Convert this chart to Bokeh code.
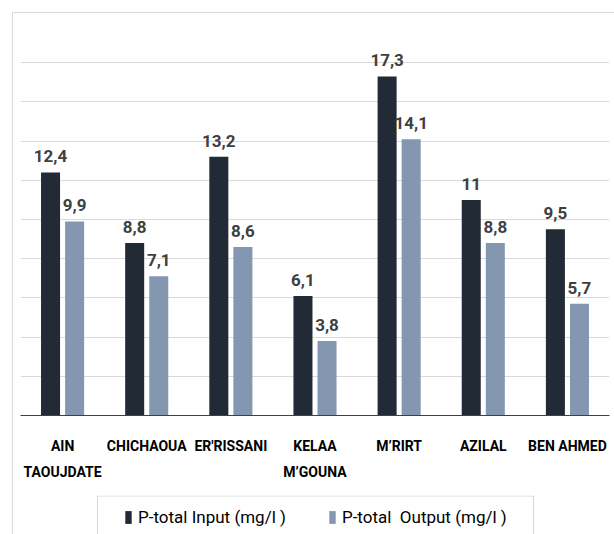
from bokeh.plotting import figure
from bokeh.layouts import column
from bokeh.models import (ColumnDataSource, Legend, LegendItem, FixedTicker, Range1d,
                          LabelSet, CategoricalAxis, FactorRange, BoxAnnotation)
from bokeh.transform import dodge
from bokeh.core.properties import value
from bokeh.embed import file_html
from bokeh.resources import INLINE

# Wastewater treatment plants and total phosphorus (mg/l)
sites = ["AIN TAOUJDATE", "CHICHAOUA", "ER'RISSANI", "KELAA M’GOUNA", "M’RIRT", "AZILAL", "BEN AHMED"]
name_line1 = ["AIN", "CHICHAOUA", "ER'RISSANI", "KELAA", "M’RIRT", "AZILAL", "BEN AHMED"]
name_line2 = ["TAOUJDATE", "", "", "M’GOUNA", "", "", ""]
p_input = [12.4, 8.8, 13.2, 6.1, 17.3, 11.0, 9.5]
p_output = [9.9, 7.1, 8.6, 3.8, 14.1, 8.8, 5.7]
series_names = ["P-total Input (mg/l )", "P-total  Output (mg/l )"]

def fmt(v):
    s = f"{v:.1f}".replace(".", ",")
    return s[:-2] if s.endswith(",0") else s

src = ColumnDataSource(dict(
    site=sites,
    inp=p_input,
    out=p_output,
    inp_lbl=[fmt(v) for v in p_input],
    out_lbl=[fmt(v) for v in p_output],
))

FONT = "Roboto"
DARK = "#222a35"
LIGHT = "#8497b0"

p = figure(x_range=sites, y_range=Range1d(0, 20), width=602, height=482,
           output_backend="svg", toolbar_location=None, x_axis_location=None,
           min_border_left=7, min_border_right=6, min_border_top=10, min_border_bottom=80)
p.outline_line_color = None
p.background_fill_color = "white"

# second line factors must be unique, so blanks get distinct widths
l2_factors = [t if t else " " * (i + 1) for i, t in enumerate(name_line2)]
p.extra_x_ranges = {"line1": FactorRange(factors=name_line1),
                    "line2": FactorRange(factors=l2_factors)}

p.vbar(x=dodge("site", -0.143, range=p.x_range), top="inp", width=0.226,
       source=src, fill_color=DARK, line_color=None)
p.vbar(x=dodge("site", 0.143, range=p.x_range), top="out", width=0.226,
       source=src, fill_color=LIGHT, line_color=None)

for col, lbl, off in (("inp", "inp_lbl", -0.143), ("out", "out_lbl", 0.143)):
    p.add_layout(LabelSet(x=dodge("site", off, range=p.x_range), y=col, text=lbl, source=src,
                          text_align="center", text_baseline="bottom", y_offset=10,
                          text_font=value(FONT), text_font_style="bold",
                          text_font_size="17px", text_color="#404040"))

p.yaxis.visible = False
p.ygrid.ticker = FixedTicker(ticks=list(range(0, 21, 2)))
p.ygrid.grid_line_color = "#d9d9d9"
p.ygrid.grid_line_width = 1
p.xgrid.grid_line_color = None

ax1 = CategoricalAxis(x_range_name="line1")
ax2 = CategoricalAxis(x_range_name="line2")
for ax in (ax1, ax2):
    ax.major_tick_line_color = None
    ax.minor_tick_line_color = None
    ax.major_label_text_font = FONT
    ax.major_label_text_font_style = "bold"
    ax.major_label_text_font_size = "14px"
    ax.major_label_text_color = "#000000"
ax1.axis_line_color = "#404040"
ax1.axis_line_width = 1
ax1.major_label_standoff = 16
ax2.axis_line_color = None
ax2.major_label_standoff = 1
p.add_layout(ax1, "below")
p.add_layout(ax2, "below")

# legend strip below the chart, in pixel-like units
lg = figure(width=602, height=40, x_range=Range1d(0, 589), y_range=Range1d(0, 40),
            output_backend="svg", toolbar_location=None,
            min_border_left=7, min_border_right=6, min_border_top=0, min_border_bottom=0)
lg.axis.visible = False
lg.grid.grid_line_color = None
lg.outline_line_color = None
lg.add_layout(BoxAnnotation(left=77, right=513, bottom=-5, top=39.5,
                            fill_alpha=0, line_color="#7f7f7f", line_width=1))
# zero-height keys, only used for the legend swatches
k_in = lg.vbar(x=[0], top=[0], bottom=[0], width=1, fill_color=DARK, line_color=None)
k_out = lg.vbar(x=[0], top=[0], bottom=[0], width=1, fill_color=LIGHT, line_color=None)

legend = Legend(items=[
    LegendItem(label=series_names[0], renderers=[k_in]),
    LegendItem(label=series_names[1], renderers=[k_out]),
], orientation="horizontal", location=(104, 8))
legend.label_text_font = FONT
legend.label_text_font_size = "17px"
legend.label_text_color = "#000000"
legend.glyph_width = 8
legend.glyph_height = 16
legend.spacing = 42
legend.padding = 10
legend.margin = 0
legend.label_standoff = 6
legend.border_line_color = None
legend.background_fill_alpha = 0
lg.add_layout(legend, "center")

layout = column(p, lg, spacing=0)
layout.margin = (12, 0, 0, 12)
layout.styles = {"border-left": "1px solid #d9d9d9", "border-top": "1px solid #d9d9d9"}

open("out.html", "w").write(file_html(layout, INLINE))
